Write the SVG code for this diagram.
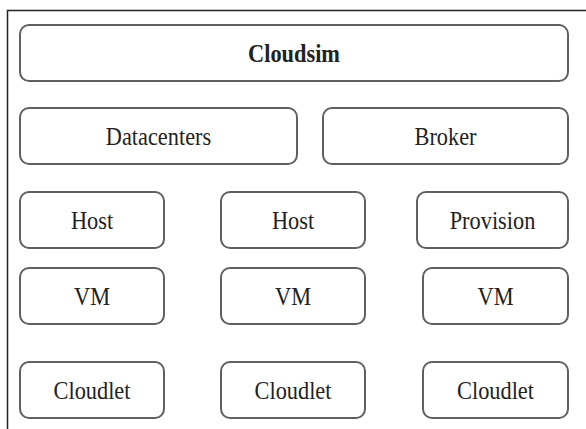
<svg xmlns="http://www.w3.org/2000/svg" width="586" height="429" viewBox="0 0 586 429">
<style>
.box{fill:#fff;stroke:#606060;stroke-width:2}
.lbl{font-family:'Liberation Serif','Times New Roman',Times,serif;font-size:26px;fill:#222;text-anchor:middle}
.bold{font-weight:bold}
.frame{stroke:#222;stroke-width:1.5;fill:none}
</style>
<rect width="586" height="429" fill="#fff"/>
<path class="frame" d="M7.5,429 V10.5 H586"/>
<g id="cloudsim"><rect class="box" x="20" y="25" width="548" height="56" rx="9"/><text class="lbl bold" transform="translate(294,62) scale(0.86,1)">Cloudsim</text></g>
<g id="datacenters"><rect class="box" x="20" y="108" width="277" height="56" rx="9"/><text class="lbl" transform="translate(158.5,145) scale(0.86,1)">Datacenters</text></g>
<g id="broker"><rect class="box" x="323" y="108" width="245" height="56" rx="9"/><text class="lbl" transform="translate(445.5,145) scale(0.86,1)">Broker</text></g>
<g id="host1"><rect class="box" x="20" y="192" width="144" height="56" rx="9"/><text class="lbl" transform="translate(92,229) scale(0.86,1)">Host</text></g>
<g id="host2"><rect class="box" x="221" y="192" width="144" height="56" rx="9"/><text class="lbl" transform="translate(293,229) scale(0.86,1)">Host</text></g>
<g id="provision"><rect class="box" x="417" y="192" width="151" height="56" rx="9"/><text class="lbl" transform="translate(492.5,229) scale(0.86,1)">Provision</text></g>
<g id="vm1"><rect class="box" x="20" y="268" width="144" height="56" rx="9"/><text class="lbl" transform="translate(92,305) scale(0.86,1)">VM</text></g>
<g id="vm2"><rect class="box" x="221" y="268" width="144" height="56" rx="9"/><text class="lbl" transform="translate(293,305) scale(0.86,1)">VM</text></g>
<g id="vm3"><rect class="box" x="423" y="268" width="145" height="56" rx="9"/><text class="lbl" transform="translate(495.5,305) scale(0.86,1)">VM</text></g>
<g id="cloudlet1"><rect class="box" x="20" y="362" width="144" height="56" rx="9"/><text class="lbl" transform="translate(92,399) scale(0.86,1)">Cloudlet</text></g>
<g id="cloudlet2"><rect class="box" x="221" y="362" width="144" height="56" rx="9"/><text class="lbl" transform="translate(293,399) scale(0.86,1)">Cloudlet</text></g>
<g id="cloudlet3"><rect class="box" x="423" y="362" width="145" height="56" rx="9"/><text class="lbl" transform="translate(495.5,399) scale(0.86,1)">Cloudlet</text></g>
<g id="connectors"/>
</svg>
